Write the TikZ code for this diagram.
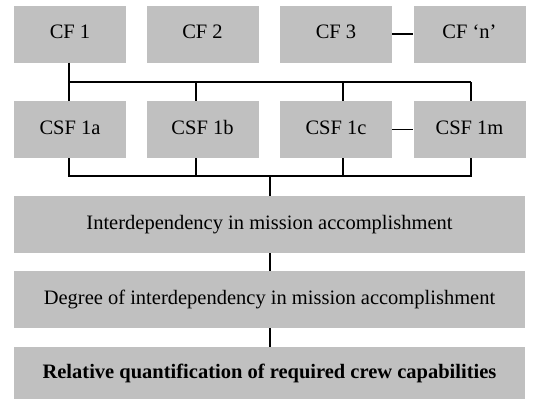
\documentclass[tikz,border=0pt]{standalone}
\usepackage{fontspec}
\setmainfont{Liberation Serif}
\newcommand{\uptext}[1]{\raisebox{4pt}{#1}}
\begin{document}
\begin{tikzpicture}[x=1pt,y=-1pt,
  box/.style={fill=boxgray,draw=none,minimum height=57pt,inner sep=0pt,font=\fontsize{20.5}{22}\selectfont},
  small/.style={box,minimum width=112pt},
  wide/.style={box,minimum width=511pt},
  conn/.style={line width=1.1pt,black}]
\definecolor{boxgray}{RGB}{192,192,192}
\useasboundingbox[fill=white] (0,0) rectangle (541,399);
% top row
\node[small] (cf1) at (70,34) {\uptext{CF 1}};
\node[small] (cf2) at (202.5,34) {\uptext{CF 2}};
\node[small] (cf3) at (336,34) {\uptext{CF 3}};
\node[small] (cfn) at (469.5,34) {\uptext{CF ‘n’}};
% second row
\node[small] (csfa) at (70,129.5) {\uptext{CSF 1a}};
\node[small] (csfb) at (202.5,129.5) {\uptext{CSF 1b}};
\node[small] (csfc) at (336,129.5) {\uptext{CSF 1c}};
\node[small] (csfm) at (469.5,129.5) {\uptext{CSF 1m}};
% wide boxes
\node[wide] (inter) at (269.5,224.5) {\uptext{Interdependency in mission accomplishment}};
\node[wide] (degree) at (269.5,299.5) {\uptext{Degree of interdependency in mission accomplishment}};
\node[wide,minimum height=52pt] (rel) at (269.5,373) {\textbf{Relative quantification of required crew capabilities}};
% bus coordinates
\coordinate (ta) at (69,82);
\coordinate (tb) at (196,82);
\coordinate (tc) at (343,82);
\coordinate (td) at (471,82);
\coordinate (ba) at (69,176);
\coordinate (bb) at (196,176);
\coordinate (bc) at (343,176);
\coordinate (bd) at (471,176);
\coordinate (bm) at (270,176);
% connectors
\draw[conn] (ta |- cf1.south) -- (ta) -- (td);
\draw[conn] (ta) -- (ta |- csfa.north);
\draw[conn] (tb) -- (tb |- csfb.north);
\draw[conn] (tc) -- (tc |- csfc.north);
\draw[conn] (td) -- (td |- csfm.north);
\draw[conn] (cf3.east) -- (cfn.west);
\draw[conn] (csfc.east) -- (csfm.west);
\draw[conn] (ba |- csfa.south) -- (ba) -- (bd) -- (bd |- csfm.south);
\draw[conn] (bb |- csfb.south) -- (bb);
\draw[conn] (bc |- csfc.south) -- (bc);
\draw[conn] (bm) -- (bm |- inter.north);
\draw[conn] (inter.south -| bm) -- (degree.north -| bm);
\draw[conn] (degree.south -| bm) -- (rel.north -| bm);
\end{tikzpicture}
\end{document}
